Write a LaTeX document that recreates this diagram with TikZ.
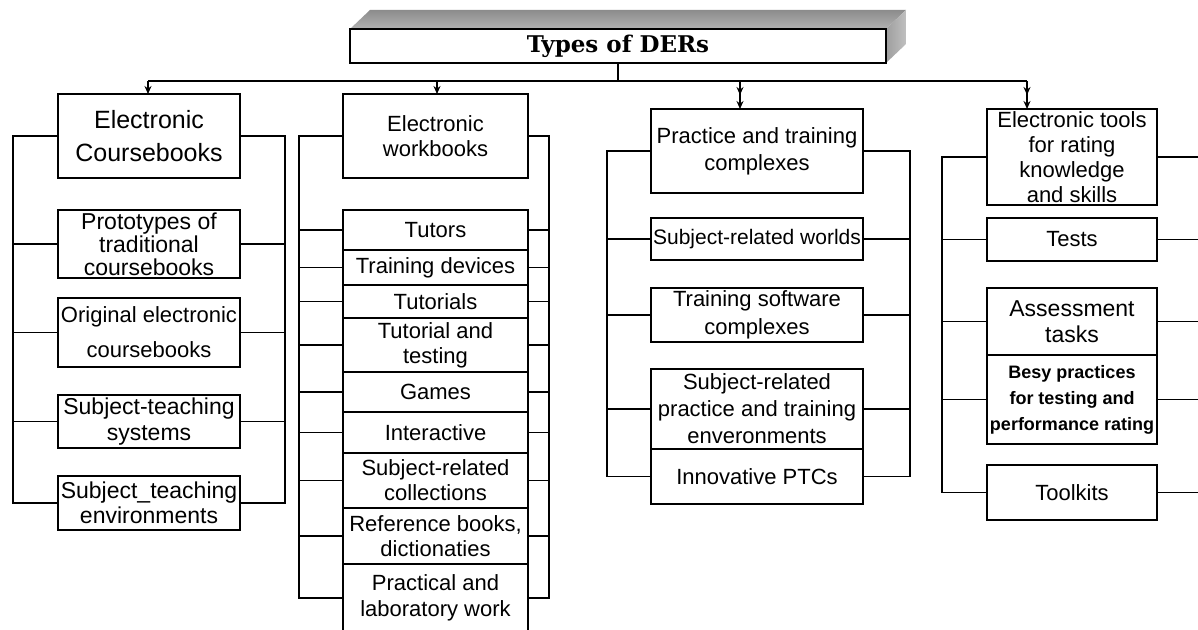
\documentclass[tikz,border=0pt]{standalone}
\usepackage{fontspec}
\setmainfont{Liberation Sans}
\newfontfamily\titlefont{DejaVu Serif}
\usetikzlibrary{arrows.meta,calc,positioning}

\begin{document}
\begin{tikzpicture}[x=0.5pt,y=-0.5pt,line width=0.9pt,node distance=0pt,
      box/.style={draw,fill=white,inner sep=1pt,outer sep=0pt,align=center,font=\fontsize{11}{12.5}\selectfont},
      c1/.style={box,minimum width=91pt,font=\fontsize{11.5}{12.5}\selectfont},
      c2/.style={box,minimum width=92.5pt},
      c3/.style={box,minimum width=106pt},
      c4/.style={box,minimum width=85pt},
      arr/.style={-{Stealth[length=4pt,width=3.5pt]}},
      darr/.style={-{Stealth[length=4pt,width=3.5pt,sep=3pt]Stealth[length=4pt,width=3.5pt]}}]
      \fill[white] (0,0) rectangle (1198,630);
      \useasboundingbox (0,0) rectangle (1198,630);

      % title block with its bevel
      \node[draw,fill=white,minimum width=268pt,minimum height=17pt,inner sep=0pt,outer sep=0pt,
        font=\titlefont\bfseries\fontsize{11.5}{14}\selectfont] (ttl) at (618,46) {Types of DERs};
      \shade[top color=black!45,bottom color=black!30] (ttl.north west) -- ++(20,-19)
        -- ($(ttl.north east)+(20,-19)$) -- (ttl.north east) -- cycle;
      \shade[left color=black!38,right color=black!25] (ttl.north east) -- ++(20,-19)
        -- ($(ttl.south east)+(20,-19)$) -- (ttl.south east) -- cycle;
      \draw (ttl.north west) rectangle (ttl.south east);

      % electronic coursebooks
      \node[c1,minimum height=42pt,font=\fontsize{12.5}{16.5}\selectfont] (ec) at (149,136) {Electronic\\Coursebooks};
      \node[c1,minimum height=34pt,font=\fontsize{11.5}{11.5}\selectfont,below=16pt of ec] (proto) {Prototypes of\\traditional\\coursebooks};
      \node[c1,minimum height=34.5pt,font=\fontsize{11}{12.5}\selectfont,below=10pt of proto] (orig) {Original electronic\\[5pt]coursebooks};
      \node[c1,minimum height=26.5pt,font=\fontsize{11.5}{13}\selectfont,below=14pt of orig] (sts) {Subject-teaching\\systems};
      \node[c1,minimum height=27pt,below=14pt of sts] (ste) {Subject\_teaching\\environments};

      % electronic workbooks
      \node[c2,minimum height=42pt] (ew) at (435.5,136) {Electronic\\workbooks};
      \node[c2,minimum height=20pt,below=16pt of ew] (tut) {Tutors};
      \node[c2,minimum height=17.5pt,below=of tut] (dev) {Training devices};
      \node[c2,minimum height=16.5pt,below=of dev] (tls) {Tutorials};
      \node[c2,minimum height=27pt,below=of tls] (tat) {Tutorial and\\testing};
      \node[c2,minimum height=20pt,below=of tat] (gam) {Games};
      \node[c2,minimum height=20.5pt,below=of gam] (int) {Interactive};
      \node[c2,minimum height=27.5pt,below=of int] (col) {Subject-related\\collections};
      \node[c2,minimum height=28pt,below=of col] (ref) {Reference books,\\dictionaties};
      \node[c2,minimum height=34pt,font=\fontsize{11}{13}\selectfont,below=of ref] (lab) {Practical and\\laboratory work};

      % practice and training complexes
      \node[c3,minimum height=42pt,font=\fontsize{11}{13.5}\selectfont] (ptc) at (757,151) {Practice and training\\complexes};
      \node[c3,minimum height=21pt,font=\fontsize{10.5}{12.5}\selectfont,below=12.5pt of ptc] (wor) {Subject-related worlds};
      \node[c3,minimum height=27pt,font=\fontsize{11}{14}\selectfont,below=14pt of wor] (tsc) {Training software\\complexes};
      \node[c3,minimum height=40pt,font=\fontsize{11}{13.5}\selectfont,below=13.5pt of tsc] (env) {Subject-related\\practice and training\\enveronments};
      \node[c3,minimum height=27.5pt,below=of env] (ino) {Innovative PTCs};

      % rating tools
      \node[c4,minimum height=48pt,inner ysep=0pt] (etr) at (1072,157) {Electronic tools\\for rating\\knowledge\\and skills};
      \node[c4,minimum height=21.5pt,below=6.5pt of etr] (tst) {Tests};
      \node[c4,minimum height=33.5pt,font=\fontsize{11.5}{13}\selectfont,below=13.5pt of tst] (ast) {Assessment\\tasks};
      \node[c4,minimum height=44.5pt,font=\fontsize{9}{13}\selectfont\bfseries,below=of ast] (bes) {Besy practices\\for testing and\\performance rating};
      \node[c4,minimum height=27.5pt,below=10.5pt of bes] (tkt) {Toolkits};

      % main bus under the title
      \coordinate (b1) at (148,81); \coordinate (b2) at (437,81);
      \coordinate (b3) at (740,81); \coordinate (b4) at (1027,81);
      \draw (b1) -- (b4);
      \draw (ttl.south) -- (ttl.south |- b1);
      \draw[arr] (b1) -- (b1 |- ec.north);
      \draw[arr] (b2) -- (b2 |- ew.north);
      \draw[darr] (b3) -- (b3 |- ptc.north);
      \draw[darr] (b4) -- (b4 |- etr.north);

      % side rails of every column
      \coordinate (l1) at (13,0);  \coordinate (r1) at (285,0);
      \coordinate (l2) at (299,0); \coordinate (r2) at (549,0);
      \coordinate (l3) at (607,0); \coordinate (r3) at (910,0);
      \coordinate (l4) at (942,0); \coordinate (r4) at (1205,0);
      \draw (ec.west) -| (ste.west -| l1) -- (ste.west);
      \draw (ec.east) -| (ste.east -| r1) -- (ste.east);
      \foreach \n in {proto,orig,sts}
        \draw (\n.west) -- (\n.west -| l1) (\n.east) -- (\n.east -| r1);
      \draw (ew.west) -| (lab.west -| l2) -- (lab.west);
      \draw (ew.east) -| (lab.east -| r2) -- (lab.east);
      \foreach \n in {tut,dev,tls,tat,gam,int,col,ref}
        \draw (\n.west) -- (\n.west -| l2) (\n.east) -- (\n.east -| r2);
      \draw (ptc.west) -| (ino.west -| l3) -- (ino.west);
      \draw (ptc.east) -| (ino.east -| r3) -- (ino.east);
      \foreach \n in {wor,tsc,env}
        \draw (\n.west) -- (\n.west -| l3) (\n.east) -- (\n.east -| r3);
      \draw (etr.west) -| (tkt.west -| l4) -- (tkt.west);
      \draw (etr.east) -| (tkt.east -| r4) -- (tkt.east);
      \foreach \n in {tst,ast,bes}
        \draw (\n.west) -- (\n.west -| l4) (\n.east) -- (\n.east -| r4);
\end{tikzpicture}
\end{document}
